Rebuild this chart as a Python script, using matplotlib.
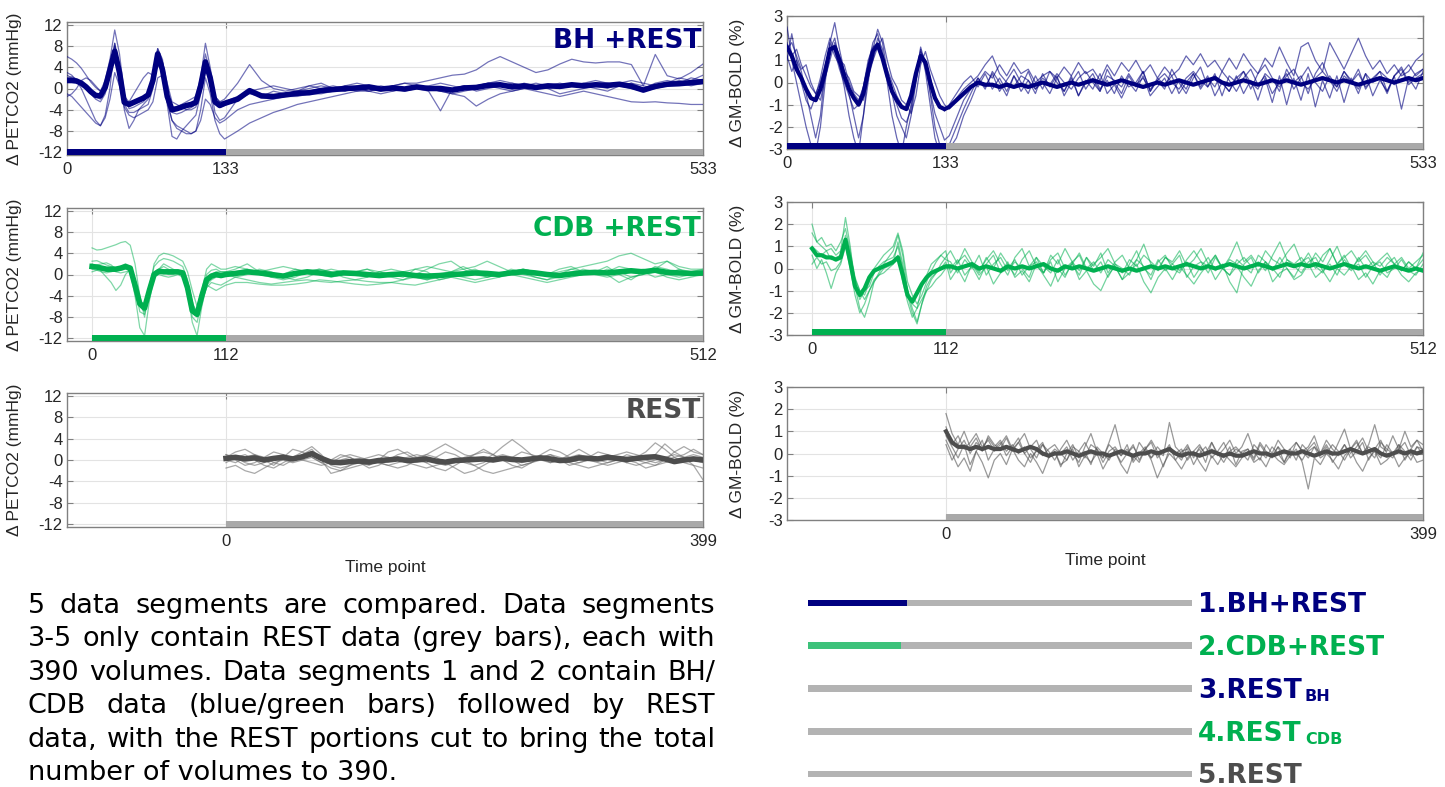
import numpy as np
import matplotlib
matplotlib.use('Agg')
import matplotlib.pyplot as plt

W, H = 1445, 787
NAVY = '#000080'
GREEN = '#00b050'
LIGHT_GREEN = '#3cc27a'
DARK = '#4d4d4d'
BAR_GREY = '#a9a9a9'
SEG_GREY = '#b3b3b3'

plt.rcParams['font.family'] = ['Liberation Sans', 'DejaVu Sans']

# ---------------- data ----------------
# segment lengths (time points)
bh_len, bh_task = 533, 133
cdb_len, cdb_task = 512, 112
rest_len = 399

# ΔPETCO2, BH + REST   (task: t 0..132, rest: t 143..533)
bh_pet_mean_task = [1.5, 1.5, 1.4, 1.0, 0.3, -0.6, -1.3, -1.4, 0.2, 3.5, 7.0, 3.0, -2.6, -3.0, -2.6, -2.2, -1.8,
                    -1.2, 1.5, 6.5, 3.5, -1.5, -4.0, -3.8, -3.5, -3.2, -3.0, -2.6, 0.5, 5.0, 2.0, -2.5, -3.2, -2.8]
bh_pet_mean_rest = [-2.0, -0.4, -1.4, -1.5, -1.2, -0.9, -0.8, -0.4, -0.2, 0.0, 0.1, 0.3, -0.1, 0.1, -0.1, 0.3, 0.0,
                    0.0, -0.3, 0.1, 0.2, 0.6, 0.7, 0.3, 0.5, 0.2, 0.5, 0.4, 0.7, 0.5, 0.7, 0.6, 0.8, 0.4, -0.3, 0.4,
                    0.8, 0.9, 1.1, 1.3]
bh_pet_task = [
    [6.0, 5.5, 4.8, 3.8, 2.5, 1.2, 0.2, -0.5, 1.5, 5.5, 11.0, 6.5, -1.0, -3.8, -3.5, -3.0, -2.5, -1.5, 2.0, 7.5, 5.0,
     -1.0, -4.5, -4.8, -4.5, -4.0, -3.6, -3.0, 1.0, 6.5, 3.0, -2.0, -3.5, -3.2],
    [3.0, 2.5, 1.5, 0.0, -2.0, -4.0, -6.0, -7.0, -5.0, 0.0, 8.5, 4.0, -4.0, -7.5, -6.0, -4.0, -3.0, -2.0, 1.0, 7.0,
     4.0, -3.0, -9.0, -9.5, -8.0, -7.0, -6.0, -5.0, -1.0, 4.0, 1.0, -4.5, -6.0, -5.5],
    [2.0, 2.2, 1.8, 1.0, 0.0, -1.0, -2.0, -2.5, -1.0, 2.5, 8.0, 3.0, -3.0, -4.5, -4.5, -4.0, -3.5, -3.0, 0.0, 5.5,
     4.0, -2.5, -6.0, -7.0, -7.5, -8.0, -8.5, -8.0, -4.0, 2.0, -1.0, -6.0, -8.5, -9.5],
    [-1.5, -1.0, 0.0, 1.5, 2.0, 1.5, 0.5, -0.5, 0.5, 3.0, 6.0, 2.5, -1.5, -2.5, -1.0, 0.5, 2.0, 3.0, 2.5, 4.0, 5.0,
     1.0, -2.5, -3.0, -3.5, -4.0, -4.0, -3.5, 0.0, 4.0, 2.0, -1.5, -2.5, -2.0],
    [-1.0, -1.5, -2.5, -3.5, -4.5, -5.5, -6.5, -7.0, -5.5, -2.0, 3.0, 0.5, -3.5, -5.0, -5.5, -5.0, -4.5, -4.0, -2.5,
     2.0, 2.5, -2.5, -6.0, -7.5, -8.0, -8.5, -8.5, -8.0, -6.0, -2.0, -3.0, -5.5, -6.5, -6.0],
    [2.5, 2.0, 1.5, 0.8, 0.0, -0.8, -1.5, -2.0, 0.0, 4.0, 8.5, 3.5, -2.0, -3.0, -2.5, -2.0, -1.5, -1.0, 2.0, 7.5,
     5.5, -0.5, -3.5, -3.5, -3.0, -2.5, -2.0, -1.5, 2.0, 8.5, 4.0, -1.5, -2.5, -2.5],
]
bh_pet_rest = [
    [-2.0, -1.0, -1.5, -0.5, -1.0, -0.5, 0.0, 0.5, 0.0, -0.5, 0.5, 0.0, -0.5, 0.5, 1.0, 0.5, 0.0, -0.5, 0.0, 0.5,
     0.5, 1.0, 0.5, 0.0, 1.0, 0.5, 0.0, 0.5, 1.0, 0.5, 0.0, -0.5, 0.5, 1.0, 0.5, 0.0, 1.0, 1.5, 1.0, 1.5],
    [-2.0, -0.5, 0.0, 0.5, 0.0, -0.5, 0.5, 1.0, 0.0, 0.5, 1.0, 0.5, 0.0, 0.5, 1.0, 1.0, 1.5, 2.0, 2.5, 2.7, 3.5,
     5.0, 6.0, 5.0, 4.0, 3.0, 3.5, 4.6, 5.5, 5.0, 4.8, 5.0, 5.0, 4.5, 0.5, 6.4, 2.4, 1.8, 3.0, 4.6],
    [-8.0, -6.5, -5.5, -4.5, -3.8, -3.0, -2.5, -2.0, -1.5, -1.0, -0.5, -0.5, 0.0, -0.5, 0.0, 0.5, 0.0, -0.5, -1.0,
     -1.5, -3.3, -2.0, -1.0, -0.5, 0.0, -0.5, -1.0, -1.5, -1.0, -0.5, -1.0, -1.5, -2.0, -2.5, -2.6, -2.5, -2.7,
     -2.8, -3.0, -3.0],
    [1.0, 4.5, 1.5, 0.0, -0.5, 0.0, 0.5, 0.0, -0.5, 0.5, 0.0, -0.5, 0.0, 0.5, 0.0, 0.0, -0.5, -4.2, 0.0, 0.5, -0.5,
     0.0, 0.5, 1.0, 0.5, 0.0, 0.5, 1.0, 0.5, 1.0, 0.5, 0.0, 1.0, 1.5, 1.0, 0.5, 1.0, 2.0, 1.5, 2.5],
    [-4.0, -3.0, -2.5, -2.0, -1.5, -1.5, -1.0, -1.0, -0.5, -0.5, 0.0, -0.5, -1.0, -0.5, 0.0, 0.5, 0.0, -0.5, -1.0,
     -0.5, 0.0, 0.5, 0.0, -0.5, 0.0, 0.5, 0.0, -1.0, -0.5, 0.0, 0.5, 1.0, 0.5, 0.0, -0.5, 0.0, 0.5, 1.0, 0.5, 1.0],
    [-1.5, -0.5, -1.0, -1.5, -1.0, -0.5, -0.5, 0.0, 0.5, 0.0, -0.5, 0.0, 0.5, 0.0, -0.5, 0.0, 0.5, 1.0, 0.5, 0.0,
     0.5, 1.0, 1.5, 1.0, 0.5, 1.0, 0.5, 0.0, 0.5, 1.0, 1.5, 1.0, 0.5, 1.0, 0.0, 1.0, 1.5, 1.0, 2.0, 1.5],
]

# ΔPETCO2, CDB + REST   (task: t 0..112, rest: t 120..512)
cdb_pet_mean_task = [1.5, 1.4, 1.2, 1.0, 1.0, 1.0, 1.2, 1.5, 1.2, -2.0, -5.5, -6.3, -3.0, 0.0, 0.6, 0.5, 0.5, 0.5,
                     0.5, 0.3, -2.5, -6.8, -7.5, -4.0, -1.0, -0.3, 0.0, -0.2, 0.0]
cdb_pet_mean_rest = [0.2, 0.5, 0.3, 0.0, -0.3, 0.2, 0.5, 0.3, 0.0, 0.3, 0.2, 0.0, -0.2, 0.0, 0.1, -0.2, -0.3, -0.2,
                     0.0, 0.1, 0.3, 0.2, 0.0, 0.3, 0.5, 0.3, 0.0, -0.2, 0.1, 0.3, 0.4, 0.3, 0.5, 0.7, 0.5, 0.8, 0.4,
                     0.3, 0.2, 0.3]
cdb_pet_task = [
    [5.0, 4.6, 4.7, 5.0, 5.3, 5.6, 6.0, 6.2, 5.5, 2.0, -4.0, -8.0, -3.0, 2.0, 3.5, 4.0, 3.8, 3.5, 3.0, 2.5, 0.5,
     -3.0, -6.0, -3.0, 1.0, 2.0, 1.5, 1.0, 1.0],
    [1.0, 0.8, 0.5, 0.3, 0.5, 0.8, 1.0, 1.2, 0.5, -4.0, -10.0, -11.5, -5.0, -0.5, 0.5, 0.5, 0.0, 0.0, 0.5, 0.0,
     -3.5, -9.0, -11.5, -6.0, -2.0, -1.0, -0.5, -0.5, 0.0],
    [2.0, 1.5, 0.5, -0.5, -1.5, -3.0, -2.0, 0.0, 1.0, -2.0, -6.0, -7.0, -3.0, 0.0, 1.0, 2.0, 1.5, 1.0, 0.5, 0.5,
     -1.5, -5.0, -8.0, -4.5, -2.0, -2.5, -3.0, -2.5, -2.0],
    [2.5, 2.6, 2.2, 1.8, 1.5, 1.3, 1.5, 2.0, 1.5, -1.5, -5.0, -5.5, -2.0, 1.5, 2.5, 3.0, 2.8, 2.5, 2.0, 1.5, -1.0,
     -5.5, -7.0, -3.5, -1.0, 0.0, 0.5, 0.5, 0.5],
    [0.5, 0.8, 1.0, 1.2, 1.0, 0.5, 0.3, 0.5, 0.8, -2.5, -7.0, -7.5, -3.0, -0.5, 0.0, -0.3, -0.5, -0.3, 0.0, -0.5,
     -3.5, -8.0, -9.0, -5.0, -2.5, -1.5, -1.8, -2.0, -1.5],
    [1.5, 1.8, 2.0, 2.2, 1.8, 1.0, 0.8, 1.0, 1.2, -1.0, -4.5, -6.5, -2.5, 0.5, 1.0, 1.5, 1.0, 0.5, 0.5, 0.2, -2.0,
     -6.0, -7.0, -3.5, 0.0, 0.8, 1.0, 0.5, 0.5],
]
cdb_pet_rest = [
    [1.5, 1.0, 0.5, 1.0, 1.5, 1.0, 0.5, 1.0, 0.5, 0.0, 0.5, 1.0, 0.5, 0.0, 0.5, 1.0, 1.5, 1.0, 0.5, 1.0, 1.5, 2.5,
     1.5, 0.5, 1.0, 0.5, 0.0, 0.5, 1.0, 1.5, 2.0, 2.5, 3.5, 4.0, 3.0, 2.0, 2.5, 1.5, 1.0, 1.0],
    [-0.5, -1.0, -1.5, -1.8, -1.5, -1.2, -1.0, -1.3, -1.5, -1.2, -1.0, -1.3, -1.5, -1.5, -1.0, -0.5, -1.0, -0.5,
     0.0, -0.5, -1.0, -0.5, 0.0, 0.5, 0.0, -0.5, -1.0, -0.5, 0.0, 0.5, 0.0, -0.5, 0.0, 0.5, 1.0, 0.5, 0.0, -0.5,
     0.0, 0.5],
    [-1.5, -1.5, -1.8, -2.0, -2.0, -1.8, -1.5, -1.0, -1.2, -1.5, -1.8, -2.0, -1.8, -1.5, -1.8, -2.0, -1.5, -1.0,
     -0.5, -1.0, -1.5, -1.0, -0.5, 0.0, -0.5, -1.0, -1.5, -1.0, -0.5, 0.0, 0.5, 0.0, -1.5, -0.5, 0.0, 0.5, -0.5,
     -1.0, -0.5, 0.0],
    [1.0, 2.0, 0.5, -0.5, 0.0, 1.0, 0.5, 0.0, -0.5, 0.0, 0.5, 1.0, 0.0, -0.5, -1.0, 0.0, 1.0, 2.0, 2.5, 1.0, 0.0,
     -0.5, 0.0, 1.0, 0.5, -0.5, -1.0, 0.0, 1.0, 0.5, 0.0, 1.0, 0.5, -0.5, 0.0, 1.5, 1.0, 0.0, 0.5, 1.0],
    [-0.5, 0.0, 1.0, 0.5, -0.5, -1.0, -0.5, 0.5, 1.0, 0.5, 0.0, -0.5, 0.5, 1.0, 0.5, -0.5, -1.0, 0.0, 0.5, 1.5, 0.5,
     -0.5, 0.0, 0.5, 1.0, 0.5, 0.0, -0.5, 0.0, 1.0, 0.5, 1.5, 0.0, -1.0, 0.5, 1.0, 2.5, 1.0, 0.0, 0.5],
    [0.5, 1.0, 0.0, -0.5, -1.0, -0.5, 0.5, 1.0, 0.5, -0.5, -1.0, -0.5, 0.5, 0.0, -0.5, 1.0, 0.5, -1.0, -0.5, 0.5,
     1.0, 0.0, -0.5, 0.5, 1.0, 0.5, 0.0, 1.0, 1.5, 0.5, 0.0, 0.5, 1.5, 1.0, 0.5, -0.5, 0.0, 1.0, 0.5, 0.0],
]

# ΔPETCO2, REST   (t 0..399)
rest_pet_mean = [0.3, 0.5, 0.2, 0.4, 0.0, 0.3, 0.5, 0.2, 0.6, 1.2, 0.3, -0.4, -0.5, -0.3, -0.2, -0.4, -0.1, 0.0,
                 0.2, -0.1, 0.0, 0.2, -0.2, -0.4, -0.1, 0.0, 0.1, 0.2, 0.0, 0.3, 0.1, 0.0, 0.2, 0.4, 0.2, -0.1, 0.0,
                 0.4, 0.3, 0.2, 0.5, 0.3, 0.1, 0.3, 0.5, 0.6, 0.2, -0.3, 0.0, 0.2, 0.0]
rest_pet = [
    [1.0, 0.5, -0.5, -1.0, -0.5, 0.5, 1.0, 0.5, 1.5, 2.5, 1.0, -1.0, -1.5, -1.0, -0.5, 0.0, -0.5, -1.0, -0.5, 0.0,
     0.5, 1.0, 2.0, 3.0, 2.0, 1.0, 0.5, 0.0, 1.0, 2.5, 3.8, 2.5, 1.0, 0.5, -0.5, 0.0, 0.5, 1.0, 0.5, 0.0, 0.5, 1.0,
     1.5, 1.0, 0.5, 1.0, 3.0, 1.5, 0.5, -1.0, -3.7],
    [-1.5, -1.0, -2.0, -2.5, -1.5, -0.5, 0.0, -0.5, 0.0, 0.5, -0.5, -1.5, -2.0, -1.5, -1.0, -0.5, 0.0, 0.5, 0.0,
     -0.5, -1.0, -1.5, -1.0, -0.5, 0.0, -0.5, -1.0, -2.0, -2.5, -2.0, -1.5, -1.0, -0.5, 0.0, 0.5, 0.0, -0.5, -1.0,
     -1.5, -1.0, -0.5, 0.0, 0.5, 0.0, -0.5, -1.0, -0.5, 0.0, 0.5, 0.0, -0.5],
    [0.5, 1.5, 2.0, 1.0, 0.0, -1.0, 0.5, 2.0, 1.5, 0.5, -0.5, 0.0, 1.0, 0.5, -0.5, -1.0, 0.0, 1.5, 2.0, 1.0, 0.0,
     -0.5, 0.5, 1.5, 1.0, 0.0, -1.0, -0.5, 0.5, 1.0, 0.5, -0.5, 0.0, 1.0, 2.0, 1.5, 0.5, 0.0, 0.5, 1.5, 1.0, 0.0,
     -0.5, 0.5, 1.5, 3.2, 2.0, 0.5, 1.0, 2.0, 1.0],
    [0.0, -0.5, 0.5, 1.0, 0.5, -0.5, -1.0, 0.0, 1.0, 2.0, 0.0, -2.5, -2.0, -1.0, 0.0, 0.5, 1.0, 0.5, 0.0, 0.5, 1.0,
     0.5, -0.5, -1.0, -0.5, 0.5, 1.0, 1.5, 1.0, 0.0, -1.0, -1.5, -0.5, 0.5, 1.0, 0.5, 0.0, -0.5, 0.0, 0.5, 1.0,
     0.5, -0.5, -1.0, -0.5, 0.0, 0.5, 1.0, 0.5, 1.0, 0.5],
    [1.0, 0.0, -1.0, -0.5, 0.5, 1.5, 1.0, 0.0, 0.5, 1.5, 0.5, -0.5, 0.0, 0.5, -0.5, -1.5, -1.0, 0.0, 1.0, 1.5, 0.5,
     -0.5, -1.5, -2.0, -1.0, 0.0, 1.0, 2.0, 1.0, 0.0, 0.5, 1.5, 1.0, 0.0, -0.5, 0.0, 1.0, 2.0, 1.0, 0.0, -0.5, 0.0,
     1.0, 0.5, 0.0, -0.5, 0.0, 1.5, 2.5, 1.5, 1.0],
    [-0.5, 0.5, 1.0, 0.0, -1.0, -1.5, -0.5, 0.5, 0.0, -0.5, -1.0, -0.5, 0.5, 1.0, 0.5, 0.0, -0.5, -1.0, -1.5, -1.0,
     0.0, 1.0, 0.5, -0.5, -1.5, -2.5, -2.0, -1.0, 0.0, 0.5, 0.0, -1.0, -0.5, 0.5, 1.0, 0.0, -1.0, -0.5, 0.0, -0.5,
     -1.0, -0.5, 0.0, -0.5, -1.5, -1.0, 0.0, 0.5, -0.5, -1.0, -1.5],
]

# ΔGM-BOLD, BH + REST   (task: t 0..132, rest: t 136..533)
bh_bold_mean_task = [1.6, 1.2, 0.6, 0.2, -0.3, -0.7, -0.8, -0.3, 0.5, 1.5, 1.6, 1.0, 0.3, -0.3, -0.7, -1.0, -0.5,
                     0.5, 1.4, 1.7, 1.1, 0.3, -0.4, -0.8, -1.1, -1.2, -0.6, 0.4, 1.2, 0.9, 0.0, -0.7, -1.1, -1.2]
bh_bold_mean_rest = [-1.1, -0.8, -0.5, -0.2, 0.0, -0.1, -0.1, -0.2, -0.1, -0.2, -0.1, -0.2, -0.1, 0.0, -0.1, -0.2,
                     -0.1, 0.0, -0.1, 0.0, 0.1, 0.0, -0.1, 0.0, 0.1, 0.0, -0.1, -0.2, -0.1, 0.0, -0.1, 0.0, 0.1, 0.0,
                     -0.1, 0.0, 0.1, 0.2, 0.0, -0.1, 0.0, 0.1, 0.0, -0.1, 0.0, 0.1, 0.0, 0.1, 0.0, -0.1, 0.0, 0.1,
                     0.2, 0.1, 0.0, 0.1, 0.0, -0.1, 0.0, 0.1, 0.2, 0.1, 0.0, 0.1, 0.2, 0.1, 0.2]
bh_bold_task = [
    [1.8, 1.0, 0.0, -1.0, -2.0, -2.8, -3.2, -2.0, 0.0, 1.8, 2.7, 1.5, 0.5, -0.5, -1.5, -2.5, -1.5, 0.0, 1.5, 2.4,
     1.8, 0.5, -0.5, -1.5, -2.0, -2.5, -1.5, 0.0, 1.2, 1.0, -0.5, -2.0, -2.8, -3.2],
    [2.5, 1.2, 1.5, 0.8, 0.3, -0.2, -0.5, 0.0, 0.8, 1.5, 2.0, 1.0, 0.8, 0.0, -0.5, -0.8, -0.2, 0.8, 1.8, 2.2, 1.2,
     0.6, 0.0, -0.6, -1.0, -1.2, -0.8, 0.5, 1.4, 1.0, 0.2, -0.6, -1.0, -1.3],
    [1.0, 2.2, 1.0, 0.5, -0.5, -1.5, -2.5, -1.5, 0.5, 1.8, 1.2, 0.8, -0.2, -1.5, -2.5, -3.2, -1.5, 0.5, 1.0, 2.0,
     1.5, 0.0, -1.5, -2.5, -3.2, -2.0, -1.0, 0.0, 1.5, 0.5, -1.0, -2.5, -3.2, -2.8],
    [1.5, 1.8, 1.2, 0.6, 0.8, 0.0, -0.5, -0.8, 0.2, 1.0, 1.8, 1.2, 0.5, 0.2, -0.4, -0.6, -0.8, 0.2, 1.0, 1.6, 2.0,
     1.0, 0.2, -0.2, -0.8, -1.0, -1.4, -0.6, 0.8, 1.4, 0.6, 0.0, -0.6, -1.0],
    [1.2, 0.5, 1.0, 0.0, -0.8, -1.2, -0.6, 0.2, 1.2, 2.0, 1.4, 0.6, 0.0, -0.6, -1.2, -1.0, -0.2, 1.0, 1.6, 1.8, 1.0,
     0.4, -0.4, -1.0, -1.6, -1.8, -1.2, 0.2, 1.6, 0.8, -0.4, -1.4, -2.0, -2.6],
]
bh_bold_rest = [
    [-3.0, -2.5, -1.5, -0.8, 0.0, 0.5, 0.2, 0.8, 0.3, 0.9, 0.4, 0.6, 0.0, 0.3, 0.5, 0.2, 0.7, 0.3, 0.9, 0.4, 0.6,
     0.1, 0.8, 0.3, 0.9, 0.5, 1.0, 0.4, 0.8, 0.2, 0.7, 0.3, 0.6, 1.2, 0.8, 1.3, 0.7, 1.0, 0.5, 1.1, 0.6, 1.3, 0.8,
     0.4, 1.1, 0.7, 1.6, 0.9, 0.3, 1.6, 1.8, 1.0, 0.5, 1.8, 1.2, 0.6, 1.3, 2.0, 1.2, 0.6, 1.0, 0.4, 0.8, 0.3, 0.5,
     1.0, 1.3],
    [-1.0, -0.5, 0.0, 0.3, -0.2, 0.4, -0.3, 0.2, -0.4, 0.3, -0.2, 0.5, -0.3, 0.0, -0.5, 0.2, -0.4, 0.3, -0.6, 0.1,
     -0.3, 0.4, -0.5, -0.1, -0.7, 0.0, -0.4, 0.3, -0.6, -0.2, 0.2, -0.5, 0.1, -0.3, 0.4, -0.2, 0.3, -0.6, 0.0, -0.4,
     0.3, -0.5, 0.1, -0.8, 0.2, -0.9, 0.3, -1.0, 0.2, -0.8, 0.4, -1.1, 0.1, -0.7, 0.3, -0.9, 0.2, -0.5, 0.4, -0.6,
     0.1, -0.4, 0.3, -1.2, 0.2, -0.3, 0.5],
    [-2.8, -2.0, -1.2, -0.5, 0.2, -0.3, 0.5, 0.0, -0.6, 0.3, -0.4, 0.1, -0.5, 0.4, -0.2, 0.3, -0.6, 0.0, 0.5, -0.3,
     0.2, -0.4, 0.6, 0.0, -0.5, 0.3, -0.2, 0.5, -0.4, 0.1, -0.3, 0.6, 0.0, -0.5, 0.2, 0.7, -0.2, 0.4, -0.6, 0.3, 0.0,
     0.5, -0.3, 0.4, 0.8, 0.2, -0.4, 0.6, 0.0, 0.3, -0.5, 0.4, 0.9, 0.1, -0.2, 0.5, 0.0, 0.6, -0.3, 0.2, 0.5, -0.4,
     0.3, 0.7, 0.0, 0.4, 0.6],
    [-1.2, -0.7, -0.3, 0.0, 0.3, 0.8, 1.2, 0.4, 0.0, -0.2, 0.3, 0.1, -0.3, 0.2, -0.1, 0.4, 0.0, -0.3, 0.2, 0.5, 0.0,
     -0.4, 0.3, 0.1, -0.2, 0.4, -0.1, 0.2, -0.3, 0.1, 0.4, 0.0, -0.3, 0.2, 0.5, 0.1, -0.2, 0.3, 0.0, -0.4, 0.2, 0.5,
     0.0, -0.3, 0.4, 0.1, -0.2, 0.3, 0.6, 0.0, -0.3, 0.2, 0.5, 0.1, -0.4, 0.3, 0.0, 0.4, -0.2, 0.1, 0.5, 0.2, -0.1,
     0.4, 0.8, 0.3, 0.6],
    [-2.4, -1.6, -0.8, -0.3, 0.2, -0.2, 0.4, -0.4, 0.1, 0.6, 0.0, -0.5, 0.3, -0.3, 0.5, 0.0, -0.4, 0.2, -0.6, 0.0,
     0.4, -0.3, 0.1, -0.5, 0.3, -0.2, 0.0, 0.5, -0.4, 0.2, -0.1, 0.3, -0.5, 0.0, 0.4, -0.3, 0.2, -0.2, 0.5, 0.1,
     -0.4, 0.2, 0.6, -0.1, 0.3, -0.5, 0.0, 0.4, -0.3, 0.2, 0.7, 0.0, -0.4, 0.3, -0.2, 0.5, 0.1, -0.3, 0.4, 0.0, 0.2,
     -0.5, 0.3, 0.6, -0.1, 0.2, 0.4],
]

# ΔGM-BOLD, CDB + REST   (task: t 0..112, rest: t 116..512)
cdb_bold_mean_task = [0.9, 0.6, 0.6, 0.5, 0.5, 0.4, 0.5, 1.3, 0.3, -0.8, -1.2, -0.9, -0.4, -0.1, 0.0, 0.1, 0.2,
                      0.3, 0.5, -0.3, -1.2, -1.5, -1.1, -0.7, -0.4, -0.2, -0.1, 0.0, 0.1]
cdb_bold_mean_rest = [0.1, 0.0, 0.1, 0.2, 0.0, 0.1, 0.0, -0.1, 0.1, 0.0, 0.1, 0.0, 0.1, 0.2, 0.0, -0.1, 0.1, 0.0,
                      0.1, 0.0, -0.1, 0.0, 0.1, 0.0, -0.1, 0.0, -0.1, 0.0, 0.1, 0.0, 0.1, 0.0, 0.1, 0.2, 0.1, 0.0,
                      0.1, 0.0, 0.1, 0.2, 0.1, 0.0, 0.1, 0.2, 0.1, 0.0, 0.1, 0.2, 0.1, 0.2, 0.1, 0.2, 0.1, 0.0, 0.1,
                      0.2, 0.1, 0.0, 0.1, 0.0, -0.1, 0.0, 0.1, 0.0, -0.1, 0.0, -0.1]
cdb_bold_task = [
    [2.0, 1.2, 1.0, 0.8, 0.9, 0.6, 0.8, 2.3, 1.0, -0.8, -1.8, -2.2, -1.5, -0.6, -0.2, 0.2, 0.5, 0.8, 1.5, 0.6, -1.0,
     -1.8, -2.4, -1.6, -0.8, -0.4, -0.2, 0.2, 0.5],
    [0.2, 0.5, 0.2, 0.3, -0.1, 0.0, 0.3, 1.5, 0.6, -0.5, -1.0, -1.4, -1.0, -0.5, -0.3, 0.0, 0.1, 0.2, 1.2, 0.2,
     -1.2, -2.0, -2.5, -1.6, -1.0, -0.5, -0.2, 0.0, 0.3],
    [1.6, 1.2, 1.4, 1.0, 1.1, 0.8, 1.2, 1.8, 0.8, -0.4, -1.0, -1.2, -0.6, 0.0, 0.3, 0.6, 0.8, 1.0, 1.6, 0.8, -0.6,
     -1.2, -1.6, -1.2, -0.6, -0.1, 0.3, 0.6, 0.4],
    [0.6, 0.0, 0.4, -0.2, -0.9, -0.2, 0.2, 1.0, 0.0, -1.2, -2.0, -1.6, -1.0, -0.6, -0.3, -0.2, 0.0, 0.2, 0.6, -0.6,
     -1.5, -2.2, -1.8, -1.4, -1.0, -0.8, -0.5, -0.3, 0.0],
    [1.0, 0.8, 0.6, 0.8, 0.4, 0.5, 0.6, 1.2, 0.2, -0.6, -1.4, -1.0, -0.8, -0.2, 0.1, 0.3, 0.4, 0.5, 1.0, 0.0, -1.0,
     -1.6, -1.8, -0.8, -0.3, 0.2, 0.4, 0.6, 0.8],
]
cdb_bold_rest = [
    [0.8, 0.2, 0.9, 0.3, -0.2, 0.5, 0.0, 0.7, 0.2, -0.3, 0.4, 0.8, 0.1, -0.2, 0.6, 0.2, 0.9, 0.3, -0.1, 0.5, 0.1,
     0.7, -0.2, 0.3, 0.6, 0.0, 0.4, 1.1, 0.2, -0.1, 0.5, 0.3, 0.8, 0.1, 0.4, 0.9, 0.2, 0.6, 0.0, 0.5, 1.2, 0.3, 0.6,
     0.1, 0.8, 0.4, 0.2, 0.7, 1.1, 0.3, 0.5, 0.0, 0.6, 0.9, 0.2, 0.5, 0.8, 0.3, 0.6, 0.1, 0.4, 0.7, 0.2, 0.5, 0.0,
     0.3, 0.6],
    [-0.5, 0.0, -0.6, 0.2, -0.3, 0.1, -0.7, -0.2, 0.3, -0.4, -0.1, -0.6, 0.2, -0.3, -0.8, 0.0, -0.4, 0.3, -0.5, -0.1,
     -0.7, -1.0, -0.3, 0.1, -0.5, -0.2, 0.2, -0.6, -1.1, -0.4, 0.0, -0.5, 0.1, -0.3, -0.7, -0.2, 0.2, -0.5, 0.0,
     -0.3, 0.1, -0.4, -0.8, -0.1, 0.3, -0.6, -0.2, 0.0, -0.5, -0.3, 0.2, -0.4, -0.1, -0.6, 0.0, -0.3, 0.1, -0.5,
     -0.2, -0.7, -0.1, -0.4, 0.2, -0.3, -0.6, -0.2, 0.0],
    [0.3, -0.2, 0.4, 0.0, 0.6, -0.3, 0.2, 0.5, -0.1, 0.3, 0.0, -0.4, 0.5, 0.1, -0.2, 0.4, -0.3, 0.2, 0.7, 0.0, 0.3,
     -0.2, 0.4, 0.1, -0.5, 0.2, 0.8, 0.0, -0.3, 0.4, -0.1, 0.2, 0.6, -0.4, 0.1, 0.3, -0.2, 0.5, 0.0, -0.3, 0.4, 0.1,
     -0.2, 0.6, 0.3, -0.1, 0.5, 0.0, -0.4, 0.2, 0.7, 0.1, -0.2, 0.4, 1.0, 0.2, -0.1, 0.5, 0.0, 0.3, -0.3, 0.2, 0.5,
     -0.1, 0.3, 0.0, 0.7],
    [0.0, 0.4, -0.3, 0.1, -0.5, 0.2, 0.6, -0.2, 0.0, 0.4, -0.3, 0.1, 0.5, -0.2, 0.3, -0.6, 0.0, 0.2, -0.3, 0.5, -0.1,
     0.3, -0.4, 0.2, 0.0, -0.3, 0.4, 0.1, -0.5, 0.3, 0.6, 0.0, -0.2, 0.3, -0.4, 0.1, 0.5, -0.1, 0.2, -0.6, -1.1,
     0.2, 0.5, -0.2, 0.3, 0.0, -0.4, 0.4, 0.1, -0.2, 0.3, 0.5, -0.1, 0.2, -0.3, 0.4, 0.0, 0.2, -0.4, 0.1, 0.3, -0.2,
     0.0, 0.4, -0.1, -0.3, 0.2],
    [-0.2, 0.3, 0.6, 0.1, -0.1, 0.4, 0.8, 0.2, -0.3, 0.5, 0.9, 0.1, 0.3, -0.2, 0.4, 0.7, 0.0, 0.3, 0.6, -0.1, 0.2,
     0.5, 0.9, 0.2, -0.2, 0.4, 0.1, 0.6, 0.3, 0.0, 0.5, 0.2, -0.1, 0.4, 0.8, 0.3, 0.1, 0.6, 0.0, 0.4, 0.2, 0.5, 0.1,
     0.3, -0.1, 0.6, 1.2, 0.4, 0.2, 0.5, 0.1, 0.7, 0.3, 0.9, 0.2, 0.6, 0.0, 0.4, 0.8, 0.3, 0.1, 0.5, 0.2, -0.1, 0.3,
     0.0, 0.4],
]

# ΔGM-BOLD, REST   (t 0..399)
rest_bold_mean = [1.0, 0.5, 0.3, 0.3, 0.2, 0.3, 0.2, 0.3, 0.2, 0.2, 0.3, 0.2, 0.1, 0.2, 0.3, 0.2, 0.0, -0.1, 0.0,
                  0.0, 0.1, 0.0, -0.1, 0.0, 0.1, 0.0, 0.0, -0.1, 0.0, 0.1, 0.0, -0.1, 0.0, 0.0, 0.1, 0.0, 0.1, 0.2,
                  0.0, -0.1, 0.0, 0.0, -0.1, 0.0, 0.1, 0.0, -0.1, 0.0, -0.1, -0.1, 0.0, 0.1, 0.0, 0.0, -0.1, 0.0, 0.1,
                  0.0, 0.0, 0.1, 0.0, -0.1, 0.0, 0.1, 0.0, 0.0, 0.1, 0.2, 0.1, 0.0, 0.1, 0.2, 0.0, -0.1, 0.0, 0.1,
                  0.0, 0.1, 0.0, 0.1]
rest_bold = [
    [1.8, 0.9, 0.4, 1.0, 0.3, 0.7, 0.1, 0.8, 0.4, 0.2, 0.7, 0.1, 0.5, 0.9, 0.2, -0.2, 0.4, 0.1, -0.3, 0.2, 0.6, 0.0,
     -0.4, 0.3, 0.9, 0.1, -0.2, 0.5, 1.3, 0.2, 0.0, 0.4, -0.3, 0.2, 0.6, 0.1, -0.1, 1.4, 0.3, 0.0, 0.4, -0.2, 0.3,
     0.0, 0.5, -0.1, 0.2, 0.6, 0.0, 0.3, 0.9, 0.1, -0.3, 0.4, 0.0, 0.6, 0.2, -0.2, 0.5, 0.1, 0.3, 0.8, 0.0, 0.4,
     -0.1, 0.5, 1.1, 0.2, 0.6, 0.0, 0.4, 1.3, 0.3, 0.1, 0.8, 0.2, 1.0, 0.3, 0.6, 0.4],
    [0.6, 0.0, -0.6, -0.2, -0.8, 0.1, -0.4, -1.1, -0.3, 0.0, -0.5, 0.2, -0.3, -0.6, 0.0, -0.4, -0.9, -0.2, 0.1, -0.5,
     -0.3, 0.2, -0.6, -0.1, -0.4, 0.0, -0.7, -0.2, 0.1, -0.5, -0.9, -0.1, -0.4, 0.2, -0.3, -1.1, -0.5, 0.0, -0.3,
     -0.7, -0.2, 0.1, -0.4, -0.8, -0.1, -0.5, 0.0, -0.3, -0.6, -0.2, 0.1, -0.4, -0.2, -0.6, 0.0, -0.3, -0.5, -0.1,
     0.2, -0.4, -1.6, -0.2, -0.5, 0.0, -0.3, -0.7, -0.1, 0.2, -0.4, -0.8, -0.2, 0.1, -0.5, -0.3, 0.0, -0.6, -0.2,
     0.1, -0.4, -0.3],
    [1.2, 0.4, 0.8, 0.2, 0.5, 0.9, 0.3, 0.6, 0.1, 0.4, 0.8, 0.2, 0.5, 0.0, 0.3, 0.6, -0.1, 0.2, 0.4, 0.0, -0.3, 0.3,
     0.1, -0.2, 0.4, 0.2, -0.4, 0.1, 0.3, -0.1, 0.2, -0.3, 0.5, 0.1, -0.2, 0.3, 0.0, 0.4, -0.3, 0.1, 0.2, -0.5, 0.0,
     0.3, -0.2, 0.1, 0.5, -0.1, 0.2, 0.0, -0.3, 0.4, 0.1, -0.2, 0.3, 0.0, -0.4, 0.2, 0.5, 0.1, -0.2, 0.3, 0.0, 0.6,
     0.2, -0.1, 0.4, 0.0, 0.3, 0.7, 0.1, -0.2, 0.5, 0.2, 0.0, 0.4, -0.3, 0.2, 0.6, 0.1],
    [0.8, 0.3, -0.2, 0.4, -0.5, 0.1, 0.6, -0.3, 0.2, 0.5, -0.1, 0.3, 0.7, 0.0, -0.4, 0.2, 0.5, -0.2, 0.1, -0.6, 0.0,
     0.4, -0.2, 0.1, -0.5, 0.3, 0.0, -0.3, 0.2, -0.1, 0.4, -0.4, 0.0, 0.3, -0.2, 0.1, -0.6, 0.2, 0.0, -0.3, 0.3,
     -0.1, 0.2, -0.4, 0.5, 0.0, -0.2, 0.3, -0.5, 0.1, 0.2, -0.3, 0.4, 0.0, -0.2, 0.3, -0.4, 0.1, 0.0, -0.3, 0.2, 0.5,
     -0.1, 0.3, -0.4, 0.0, 0.4, -0.2, 0.1, 0.5, -0.3, 0.2, 0.6, 0.0, -0.2, 0.4, 0.1, -0.3, 0.3, 0.0],
    [0.4, -0.3, 0.2, 0.6, 0.0, 0.5, 0.2, 0.7, 0.3, 0.6, 0.1, 0.4, 0.0, 0.3, -0.2, 0.1, 0.4, -0.1, 0.2, 0.0, 0.3,
     -0.3, 0.1, 0.5, 0.0, 0.2, -0.2, 0.4, 0.1, -0.4, 0.0, 0.3, -0.1, 0.2, 0.5, -0.2, 0.1, 0.3, 0.0, 0.2, -0.3, 0.1,
     0.4, -0.1, 0.2, 0.0, -0.4, 0.1, 0.3, 0.0, 0.2, -0.2, 0.5, 0.1, -0.1, 0.3, 0.0, 0.2, -0.3, 0.4, 0.1, 0.3, -0.2,
     0.0, 0.4, 0.1, -0.3, 0.2, 0.5, 0.0, 0.3, 0.1, -0.2, 0.4, 0.0, 0.2, 0.5, -0.1, 0.3, 0.2],
]

# segment diagram (volumes)
seg_labels = ['1.BH+REST', '2.CDB+REST', '3.REST', '4.REST', '5.REST']
seg_subs = ['', '', 'BH', 'CDB', '']
seg_task = [101, 94, 0, 0, 0]
seg_total = 390

para_lines = [
    "5 data segments are compared. Data segments",
    "3-5 only contain REST data (grey bars), each with",
    "390 volumes. Data segments 1 and 2 contain BH/",
    "CDB data (blue/green bars) followed by REST",
    "data, with the REST portions cut to bring the total",
    "number of volumes to 390.",
]


# ---------------- helpers ----------------
def px_rect(x0, y0, x1, y1):
    return [x0 / W, 1 - y1 / H, (x1 - x0) / W, (y1 - y0) / H]


def join(task, rest, task_span, rest_span):
    t = np.r_[np.linspace(*task_span, len(task)), np.linspace(*rest_span, len(rest))]
    return t, np.r_[task, rest]


def style(ax, xlim, xticks, ylim, yticks, ylabel):
    ax.set_xlim(xlim)
    ax.set_ylim(ylim)
    ax.set_xticks(xticks)
    ax.set_yticks(yticks)
    ax.set_yticklabels([str(v) for v in yticks])
    ax.grid(True, color='#e3e3e3', lw=0.8)
    ax.set_axisbelow(True)
    ax.tick_params(direction='in', length=4, width=0.8, color='#808080', labelcolor='#262626',
                   top=True, right=True, labelsize=12, pad=5)
    ax.tick_params(axis='y', pad=3)
    for s in ax.spines.values():
        s.set_color('#808080')
        s.set_linewidth(1.0)
    ax.set_ylabel(ylabel, fontsize=12.5, color='#262626')


def bars(ax, task_len, total, color, y, h):
    if task_len:
        ax.barh(y, task_len, left=0, height=h, color=color, zorder=5)
    ax.barh(y, total - task_len, left=task_len, height=h, color=BAR_GREY, zorder=5)


def traces(ax, series, color, alpha, lw):
    for t, v in series:
        ax.plot(t, v, color=color, alpha=alpha, lw=lw, zorder=3)


fig = plt.figure(figsize=(W / 100, H / 100), dpi=100)

PET_TICKS = [-12, -8, -4, 0, 4, 8, 12]
BOLD_TICKS = [-3, -2, -1, 0, 1, 2, 3]
PET_LIM = (-12.5, 12.5)
BOLD_LIM = (-3, 3)
PET_LABEL = '\u0394 PETCO2 (mmHg)'
BOLD_LABEL = '\u0394 GM-BOLD (%)'

# ---- row 1: BH ----
ax = fig.add_axes(px_rect(67, 22, 703, 155))
style(ax, (0, bh_len), [0, bh_task, bh_len], PET_LIM, PET_TICKS, PET_LABEL)
traces(ax, [join(a, b, (0, 132), (143, bh_len)) for a, b in zip(bh_pet_task, bh_pet_rest)], NAVY, 0.55, 0.9)
ax.plot(*join(bh_pet_mean_task, bh_pet_mean_rest, (0, 132), (143, bh_len)), color=NAVY, lw=4, zorder=4)
bars(ax, bh_task, bh_len, NAVY, -11.95, 1.1)
ax.text(0.997, 0.805, 'BH +REST', transform=ax.transAxes, ha='right', va='baseline',
        fontsize=19, fontweight='bold', color=NAVY, family='DejaVu Sans', zorder=6)
ax.yaxis.set_label_coords(-0.071, 0.5)

ax = fig.add_axes(px_rect(787, 16, 1423, 149))
style(ax, (0, bh_len), [0, bh_task, bh_len], BOLD_LIM, BOLD_TICKS, BOLD_LABEL)
traces(ax, [join(a, b, (0, 132), (136, bh_len)) for a, b in zip(bh_bold_task, bh_bold_rest)], NAVY, 0.6, 0.9)
ax.plot(*join(bh_bold_mean_task, bh_bold_mean_rest, (0, 132), (136, bh_len)), color=NAVY, lw=3, zorder=4)
bars(ax, bh_task, bh_len, NAVY, -2.865, 0.27)
ax.yaxis.set_label_coords(-0.066, 0.5)

# ---- row 2: CDB (task end aligned with BH) ----
cdb_xlim = (cdb_task - bh_task, cdb_len)
ax = fig.add_axes(px_rect(67, 208, 703, 341))
style(ax, cdb_xlim, [0, cdb_task, cdb_len], PET_LIM, PET_TICKS, PET_LABEL)
traces(ax, [join(a, b, (0, cdb_task), (120, cdb_len)) for a, b in zip(cdb_pet_task, cdb_pet_rest)], GREEN, 0.5, 0.9)
ax.plot(*join(cdb_pet_mean_task, cdb_pet_mean_rest, (0, cdb_task), (120, cdb_len)), color=GREEN, lw=4, zorder=4)
bars(ax, cdb_task, cdb_len, GREEN, -11.95, 1.1)
ax.text(0.997, 0.792, 'CDB +REST', transform=ax.transAxes, ha='right', va='baseline',
        fontsize=19, fontweight='bold', color=GREEN, family='DejaVu Sans', zorder=6)
ax.yaxis.set_label_coords(-0.071, 0.5)

ax = fig.add_axes(px_rect(787, 202, 1423, 335))
style(ax, cdb_xlim, [0, cdb_task, cdb_len], BOLD_LIM, BOLD_TICKS, BOLD_LABEL)
traces(ax, [join(a, b, (0, cdb_task), (116, cdb_len)) for a, b in zip(cdb_bold_task, cdb_bold_rest)], GREEN, 0.55, 0.9)
ax.plot(*join(cdb_bold_mean_task, cdb_bold_mean_rest, (0, cdb_task), (116, cdb_len)), color=GREEN, lw=3, zorder=4)
bars(ax, cdb_task, cdb_len, GREEN, -2.865, 0.27)
ax.yaxis.set_label_coords(-0.066, 0.5)

# ---- row 3: REST ----
rest_xlim = (-bh_task, rest_len)
ax = fig.add_axes(px_rect(67, 393, 703, 527))
style(ax, rest_xlim, [0, rest_len], PET_LIM, PET_TICKS, PET_LABEL)
traces(ax, [(np.linspace(0, rest_len, len(v)), v) for v in rest_pet], '#707070', 0.6, 0.9)
ax.plot(np.linspace(0, rest_len, len(rest_pet_mean)), rest_pet_mean, color=DARK, lw=4, zorder=4)
bars(ax, 0, rest_len, DARK, -11.95, 1.1)
ax.text(0.997, 0.813, 'REST', transform=ax.transAxes, ha='right', va='baseline',
        fontsize=19, fontweight='bold', color=DARK, family='DejaVu Sans', zorder=6)
ax.yaxis.set_label_coords(-0.071, 0.5)
ax.set_xlabel('Time point', fontsize=12.5, color='#262626', labelpad=8)

ax = fig.add_axes(px_rect(787, 387, 1423, 520))
style(ax, rest_xlim, [0, rest_len], BOLD_LIM, BOLD_TICKS, BOLD_LABEL)
traces(ax, [(np.linspace(0, rest_len, len(v)), v) for v in rest_bold], '#555555', 0.6, 0.9)
ax.plot(np.linspace(0, rest_len, len(rest_bold_mean)), rest_bold_mean, color=DARK, lw=3, zorder=4)
bars(ax, 0, rest_len, DARK, -2.865, 0.27)
ax.yaxis.set_label_coords(-0.066, 0.5)
ax.set_xlabel('Time point', fontsize=12.5, color='#262626', labelpad=8)

# ---- segment diagram ----
dax = fig.add_axes(px_rect(808, 581.6, 1192, 786.8))
dax.set_xlim(0, seg_total)
dax.set_ylim(5.3, 0.5)
dax.axis('off')
rows = np.arange(1, len(seg_labels) + 1)
task_cols = [NAVY, LIGHT_GREEN, SEG_GREY, SEG_GREY, SEG_GREY]
lab_cols = [NAVY, GREEN, NAVY, GREEN, DARK]
dax.barh(rows, seg_task, left=0, height=0.155, color=task_cols)
dax.barh(rows, [seg_total - v for v in seg_task], left=seg_task, height=0.155, color=SEG_GREY)

fig.canvas.draw()
renderer = fig.canvas.get_renderer()
for r, lab, sub, col in zip(rows, seg_labels, seg_subs, lab_cols):
    t = dax.text(seg_total * 1.016, r + 0.22, lab, ha='left', va='baseline', fontsize=19,
                 fontweight='bold', color=col, family='DejaVu Sans', clip_on=False)
    if sub:
        s = dax.text(0, r + 0.30, sub, ha='left', va='baseline', fontsize=11.5,
                     fontweight='bold', color=col, family='DejaVu Sans', clip_on=False)
        # start subscript a few pixels after the main label's ink
        bb = t.get_window_extent(renderer)
        s.set_x(dax.transData.inverted().transform((bb.x1 + 3, 0))[0])

# ---- justified paragraph ----
PARA_SIZE = 19.5
x_left, x_right = 28, 715
baselines = [613, 646.4, 679.8, 713.2, 746.6, 780]
for i, line in enumerate(para_lines):
    yb = 1 - baselines[i] / H
    if i == len(para_lines) - 1:
        fig.text(x_left / W, yb, line, fontsize=PARA_SIZE, family='DejaVu Sans', va='baseline')
        continue
    words = line.split()
    arts = [fig.text(0, yb, w, fontsize=PARA_SIZE, family='DejaVu Sans', va='baseline') for w in words]
    widths = [a.get_window_extent(renderer).width for a in arts]
    gap = (x_right - x_left - sum(widths)) / (len(words) - 1)
    x = x_left
    for a, w in zip(arts, widths):
        a.set_x(x / W)
        x += w + gap

fig.savefig('out.png', dpi=100)
